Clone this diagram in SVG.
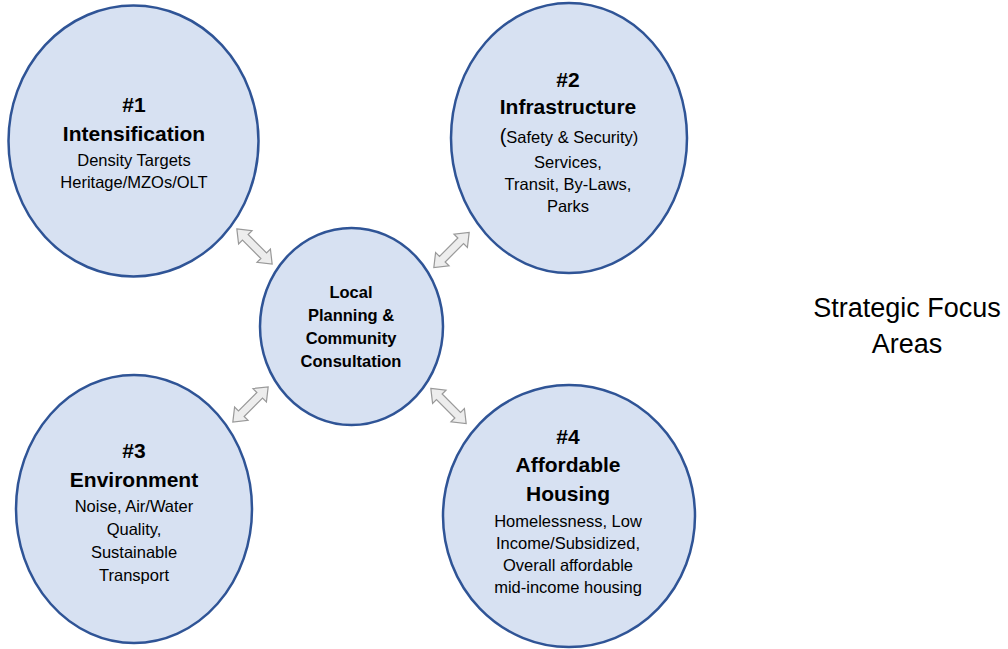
<svg xmlns="http://www.w3.org/2000/svg" width="1008" height="649" viewBox="0 0 1008 649">
<style>
.c{fill:#d7e1f2;stroke:#2f5496;stroke-width:2.5}
.t{font-family:"Liberation Sans",Arial,sans-serif;fill:#000;text-anchor:middle}
.h{font-weight:bold;font-size:21px}
.s{font-size:16.5px}
.m{font-weight:bold;font-size:16.5px}
.a{fill:#ededed;stroke:#999;stroke-width:1.2;stroke-linejoin:miter}
</style>
<defs>
<polygon id="dbl" points="-25,0 -13,-9.5 -13,-4 13,-4 13,-9.5 25,0 13,9.5 13,4 -13,4 -13,9.5"/>
</defs>
<rect width="1008" height="649" fill="#fff"/>
<g id="connectors">
<use href="#dbl" class="a" transform="translate(254.5,246.5) rotate(45)"/>
<use href="#dbl" class="a" transform="translate(451.5,250) rotate(-45)"/>
<use href="#dbl" class="a" transform="translate(250.5,404.5) rotate(-45)"/>
<use href="#dbl" class="a" transform="translate(448.5,406) rotate(45)"/>
</g>
<g id="n1">
<ellipse class="c" cx="133.5" cy="141" rx="125" ry="135.5"/>
<text class="t h" x="134" y="112">#1</text>
<text class="t h" x="134" y="141">Intensification</text>
<text class="t s" x="134" y="166">Density Targets</text>
<text class="t s" x="134" y="188">Heritage/MZOs/OLT</text>
</g>
<g id="n2">
<ellipse class="c" cx="569" cy="138" rx="118" ry="135"/>
<text class="t h" x="568" y="87">#2</text>
<text class="t h" x="568" y="114">Infrastructure</text>
<text class="t s" x="569" y="143"><tspan font-size="20px">(</tspan>Safety &amp; Security)</text>
<text class="t s" x="568" y="168">Services,</text>
<text class="t s" x="568" y="190">Transit, By-Laws,</text>
<text class="t s" x="568" y="212">Parks</text>
</g>
<g id="n3">
<ellipse class="c" cx="134" cy="509" rx="118" ry="134"/>
<text class="t h" x="134" y="458">#3</text>
<text class="t h" x="134" y="487">Environment</text>
<text class="t s" x="134" y="512">Noise, Air/Water</text>
<text class="t s" x="134" y="535">Quality,</text>
<text class="t s" x="134" y="558">Sustainable</text>
<text class="t s" x="134" y="581">Transport</text>
</g>
<g id="n4">
<ellipse class="c" cx="569" cy="516" rx="126" ry="131"/>
<text class="t h" x="568" y="444">#4</text>
<text class="t h" x="568" y="472">Affordable</text>
<text class="t h" x="568" y="501">Housing</text>
<text class="t s" x="568" y="527">Homelessness, Low</text>
<text class="t s" x="568" y="549">Income/Subsidized,</text>
<text class="t s" x="568" y="571">Overall affordable</text>
<text class="t s" x="568" y="593">mid-income housing</text>
</g>
<g id="center">
<ellipse class="c" cx="351.5" cy="326.5" rx="91.5" ry="98.5"/>
<text class="t m" x="351" y="298">Local</text>
<text class="t m" x="351" y="321">Planning &amp;</text>
<text class="t m" x="351" y="344">Community</text>
<text class="t m" x="351" y="367">Consultation</text>
</g>
<g id="title">
<text class="t" font-size="27px" x="907" y="317">Strategic Focus</text>
<text class="t" font-size="27px" x="907" y="353">Areas</text>
</g>
</svg>
